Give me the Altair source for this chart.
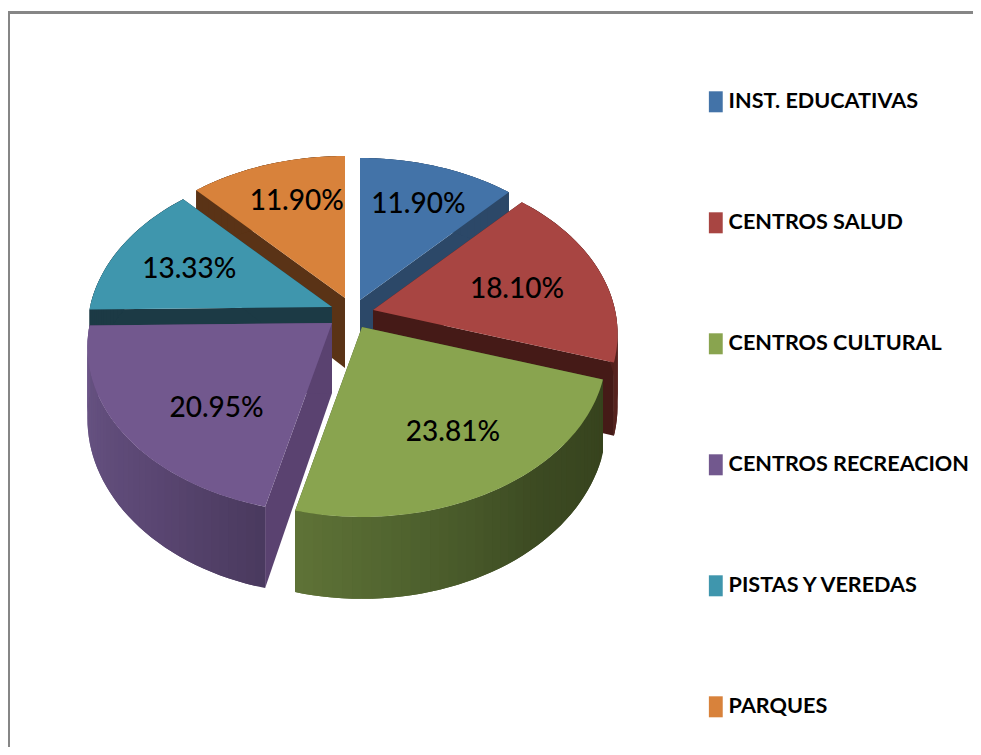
import numpy as np
import altair as alt

# ---- chart values ----
CATEGORIES = ["INST. EDUCATIVAS", "CENTROS SALUD", "CENTROS CULTURAL",
              "CENTROS RECREACION", "PISTAS Y VEREDAS", "PARQUES"]
SHARES = [11.90, 18.10, 23.81, 20.95, 13.33, 11.90]
TOP_COLORS = ["#4373a8", "#a84542", "#89a44f", "#72588e", "#3f96ad", "#d8823b"]
CUT_COLORS = ["#2c4868", "#451a17", "#3c4a22", "#5a4270", "#1c3a45", "#5a3316"]

# ---- drawing layout (page pixels) ----
OFF = 8
APEX = [(360, 300), (373, 310), (362, 327), (332, 323), (332, 307), (345, 298)]
LABEL_R = [(0.75, 0.71), (0.637, 0.50), (0.674, 0.65), (0.555, 0.77), (0.678, 0.61), (0.62, 0.72)]
A, B, K, H = 242.0, 162.5, 0.1446, 70.0
DRAW_ORDER = [5, 0, 4, 1, 3, 2]
WALL_SHADES = {
    1: [(42, "#4f1f1c"), (130, "#5a2420")],
    2: [(108, "#36421d"), (140, "#3c4a22"), (170, "#4f622e"), (194, "#5f7337")],
    3: [(194, "#4a3a5e"), (220, "#5a4672"), (250, "#64507f"), (270, "#6e5689")],
}


def rim(theta):
    t = np.radians(theta)
    s = 1 / (1 + K * np.cos(t))
    return A * np.sin(t) * s, -B * np.cos(t) * s, H * s


def poly(points):
    pts = [[float(x) - OFF, float(y) - OFF] for x, y in points]
    return {"type": "Polygon", "coordinates": [pts + [pts[0]]]}


def feature(points, key):
    return {"type": "Feature", "properties": {"key": key}, "geometry": poly(points)}


def hex_mix(anchors, theta):
    ts = [a[0] for a in anchors]
    rgb = [[int(a[1][i:i + 2], 16) for i in (1, 3, 5)] for a in anchors]
    vals = [int(round(np.interp(theta, ts, [c[j] for c in rgb]))) for j in range(3)]
    return "#%02x%02x%02x" % tuple(vals)


edges = np.concatenate([[0], np.cumsum(SHARES)]) / sum(SHARES) * 360
features = []
shades = set()

# picture frame
features.append(feature([(8, 11), (973, 11), (973, 14), (8, 14)], "#868686"))
features.append(feature([(8, 11), (10, 11), (10, 747), (8, 747)], "#868686"))
shades.add("#868686")

for i in DRAW_ORDER:
    ax, ay = APEX[i]
    t0, t1 = edges[i], edges[i + 1]
    shades.add(CUT_COLORS[i])
    # cut faces
    for t in (t0, t1):
        dx, dy, h = rim(t)
        features.append(feature([(ax, ay), (ax + dx, ay + dy),
                                 (ax + dx, ay + dy + h), (ax, ay + H)], CUT_COLORS[i]))
    # outer wall, as shaded overlapping strips
    ths = np.arange(t0, t1, 2.0).tolist() + [t1]
    for j, (a0, a1) in enumerate(zip(ths[:-1], ths[1:])):
        a2 = ths[min(j + 2, len(ths) - 1)]
        x0, y0, h0 = rim(a0)
        xm, ym, hm = rim(a1)
        x1, y1, h1 = rim(a2)
        c = hex_mix(WALL_SHADES[i], (a0 + a1) / 2) if i in WALL_SHADES else CUT_COLORS[i]
        shades.add(c)
        features.append(feature([(ax + x0, ay + y0), (ax + xm, ay + ym), (ax + x1, ay + y1),
                                 (ax + x1, ay + y1 + h1), (ax + xm, ay + ym + hm),
                                 (ax + x0, ay + y0 + h0)], c))
    # top face
    pts = [(ax, ay)] + [(ax + rim(t)[0], ay + rim(t)[1]) for t in np.linspace(t0, t1, 80)]
    features.append(feature(pts, CATEGORIES[i]))

shades = sorted(shades)
domain = CATEGORIES + shades
rng = TOP_COLORS + shades

projection = alt.Projection(type="identity", scale=1, translate=[0, 0])
pie_data = alt.Data(values={"type": "FeatureCollection", "features": features},
                    format=alt.DataFormat(property="features", type="json"))

pie = alt.Chart(pie_data).mark_geoshape(strokeWidth=0).encode(
    color=alt.Color("properties.key:N",
                    scale=alt.Scale(domain=domain, range=rng),
                    legend=alt.Legend(
                        values=CATEGORIES, title=None, orient="none",
                        legendX=697, legendY=83,
                        symbolType="M-0.66,-1H0.66V1H-0.66Z",
                        symbolSize=441, symbolStrokeWidth=0,
                        labelFont="Lato", labelFontSize=21.6,
                        labelFontWeight="bold", labelColor="#000000",
                        labelLimit=260, labelOffset=2, rowPadding=98)),
)

label_rows = []
for i, (name, v) in enumerate(zip(CATEGORIES, SHARES)):
    mid = (edges[i] + edges[i + 1]) / 2
    dx, dy, _ = rim(mid)
    label_rows.append({
        "name": name,
        "label": f"{v:.2f}%",
        "lon": float(APEX[i][0] + dx * LABEL_R[i][0] - OFF),
        "lat": float(APEX[i][1] + dy * LABEL_R[i][1] - OFF),
    })

labels = alt.Chart(alt.Data(values=label_rows)).mark_text(
    font="Lato", fontSize=28, fontWeight=500, color="#000000",
    align="center", baseline="middle",
).encode(longitude="lon:Q", latitude="lat:Q", text="label:N")

chart = alt.layer(pie, labels, projection=projection).properties(
    width=965, height=739, padding=0
).configure_view(strokeWidth=0).configure(background="#ffffff")

chart.save("out.html", embed_options={"renderer": "svg", "actions": False})
